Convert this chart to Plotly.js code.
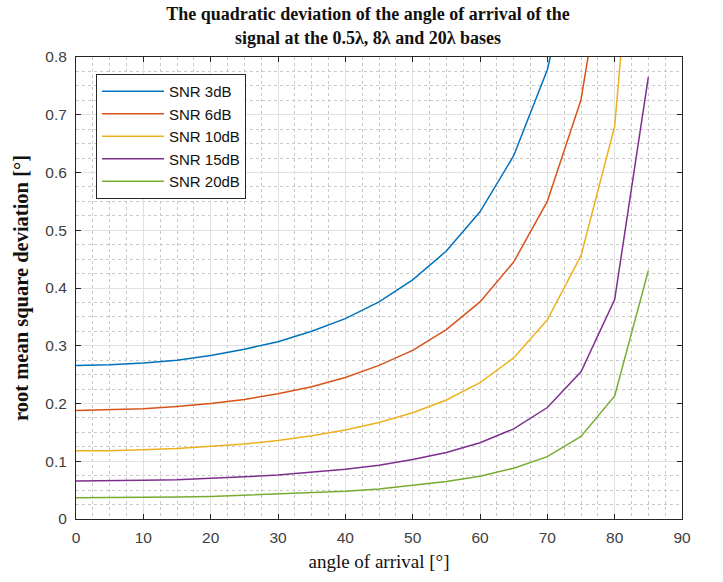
<!DOCTYPE html>
<html>
<head>
<meta charset="utf-8">
<script src="https://cdn.plot.ly/plotly-3.0.1.min.js"></script>
<style>html,body{margin:0;padding:0;background:#fff;}#chart{width:723px;height:582px;}</style>
</head>
<body>
<div id="chart"></div>
<script>
// angle of arrival [°]
const angles = [0,5,10,15,20,25,30,35,40,45,50,55,60,65,70,75,80,85];
const seriesNames = ["SNR 3dB","SNR 6dB","SNR 10dB","SNR 15dB","SNR 20dB"];
// root mean square deviation [°]
const snr3  = [0.266,0.267,0.270,0.275,0.283,0.294,0.307,0.325,0.347,0.376,0.414,0.464,0.532,0.629,0.778,1.03];
const snr6  = [0.188,0.189,0.191,0.195,0.200,0.207,0.217,0.229,0.245,0.266,0.292,0.328,0.376,0.445,0.550,0.726,1.08];
const snr10 = [0.118,0.118,0.120,0.122,0.126,0.130,0.136,0.144,0.154,0.167,0.184,0.206,0.236,0.279,0.345,0.456,0.680,1.35];
const snr15 = [0.066,0.066,0.067,0.068,0.070,0.073,0.076,0.081,0.086,0.093,0.103,0.115,0.132,0.156,0.193,0.255,0.380,0.765];
const snr20 = [0.037,0.037,0.038,0.038,0.039,0.041,0.043,0.045,0.048,0.052,0.058,0.065,0.074,0.088,0.108,0.143,0.213,0.430];
const xTicks = [0,10,20,30,40,50,60,70,80,90];
const yTicks = [0,0.1,0.2,0.3,0.4,0.5,0.6,0.7,0.8];

const colors = ["#0072BD","#D95319","#EDB120","#7E2F8E","#77AC30"];
const allY = [snr3,snr6,snr10,snr15,snr20];

const traces = allY.map((ys,i)=>({
  x: angles.slice(0, ys.length),
  y: ys,
  type: "scatter",
  mode: "lines",
  name: seriesNames[i],
  legendgroup: "g"+i,
  line: {color: colors[i], width: 1.5},
  cliponaxis: true
}));

const axisCommon = {
  showline: true, linecolor: "#262626", linewidth: 1, mirror: "allticks",
  ticks: "inside", ticklen: 5, tickcolor: "#262626",
  showgrid: true, gridcolor: "#e1e1e1", gridwidth: 1,
  zeroline: false,
  tickfont: {family: "Liberation Sans, Arial, sans-serif", size: 15.5, color: "#404040"}
};

const layout = {
  width: 723, height: 582,
  margin: {l: 76, r: 41, t: 57, b: 63},
  paper_bgcolor: "#ffffff", plot_bgcolor: "#ffffff",
  title: {
    text: "<b>The quadratic deviation of the angle of arrival of the<br>signal at the 0.5λ, 8λ and 20λ bases</b>",
    font: {family: "Liberation Serif, Times New Roman, serif", size: 18, color: "#111111"},
    xref: "container", x: 0.509, xanchor: "center",
    yref: "container", y: 0.965, yanchor: "middle"
  },
  xaxis: Object.assign({}, axisCommon, {
    range: [0, 90], tickvals: xTicks, ticktext: xTicks.map(String),
    ticklabelstandoff: 4,
    minor: {dtick: 2.5, showgrid: true, gridcolor: "#c8c8c8", griddash: "dot", gridwidth: 1, ticks: ""},
    title: {text: "angle of arrival [°]", standoff: 10,
      font: {family: "Liberation Serif, Times New Roman, serif", size: 19, color: "#111111"}}
  }),
  yaxis: Object.assign({}, axisCommon, {
    range: [0, 0.8], tickvals: yTicks, ticktext: yTicks.map(v=>String(v)),
    ticklabelstandoff: 5,
    minor: {dtick: 0.025, showgrid: true, gridcolor: "#c8c8c8", griddash: "dot", gridwidth: 1, ticks: ""},
    title: {text: "<b>root mean square deviation [°]</b>", standoff: 11,
      font: {family: "Liberation Serif, Times New Roman, serif", size: 20.5, color: "#111111"}}
  }),
  showlegend: true,
  legend: {
    x: 0.033, y: 0.963, xanchor: "left", yanchor: "top",
    bgcolor: "#ffffff", bordercolor: "#262626", borderwidth: 1,
    font: {family: "Liberation Sans, Arial, sans-serif", size: 15, color: "#111111"},
    traceorder: "grouped", tracegroupgap: 0, itemwidth: 62
  }
};

Plotly.newPlot("chart", traces, layout, {displayModeBar: false, staticPlot: true});
</script>
</body>
</html>
